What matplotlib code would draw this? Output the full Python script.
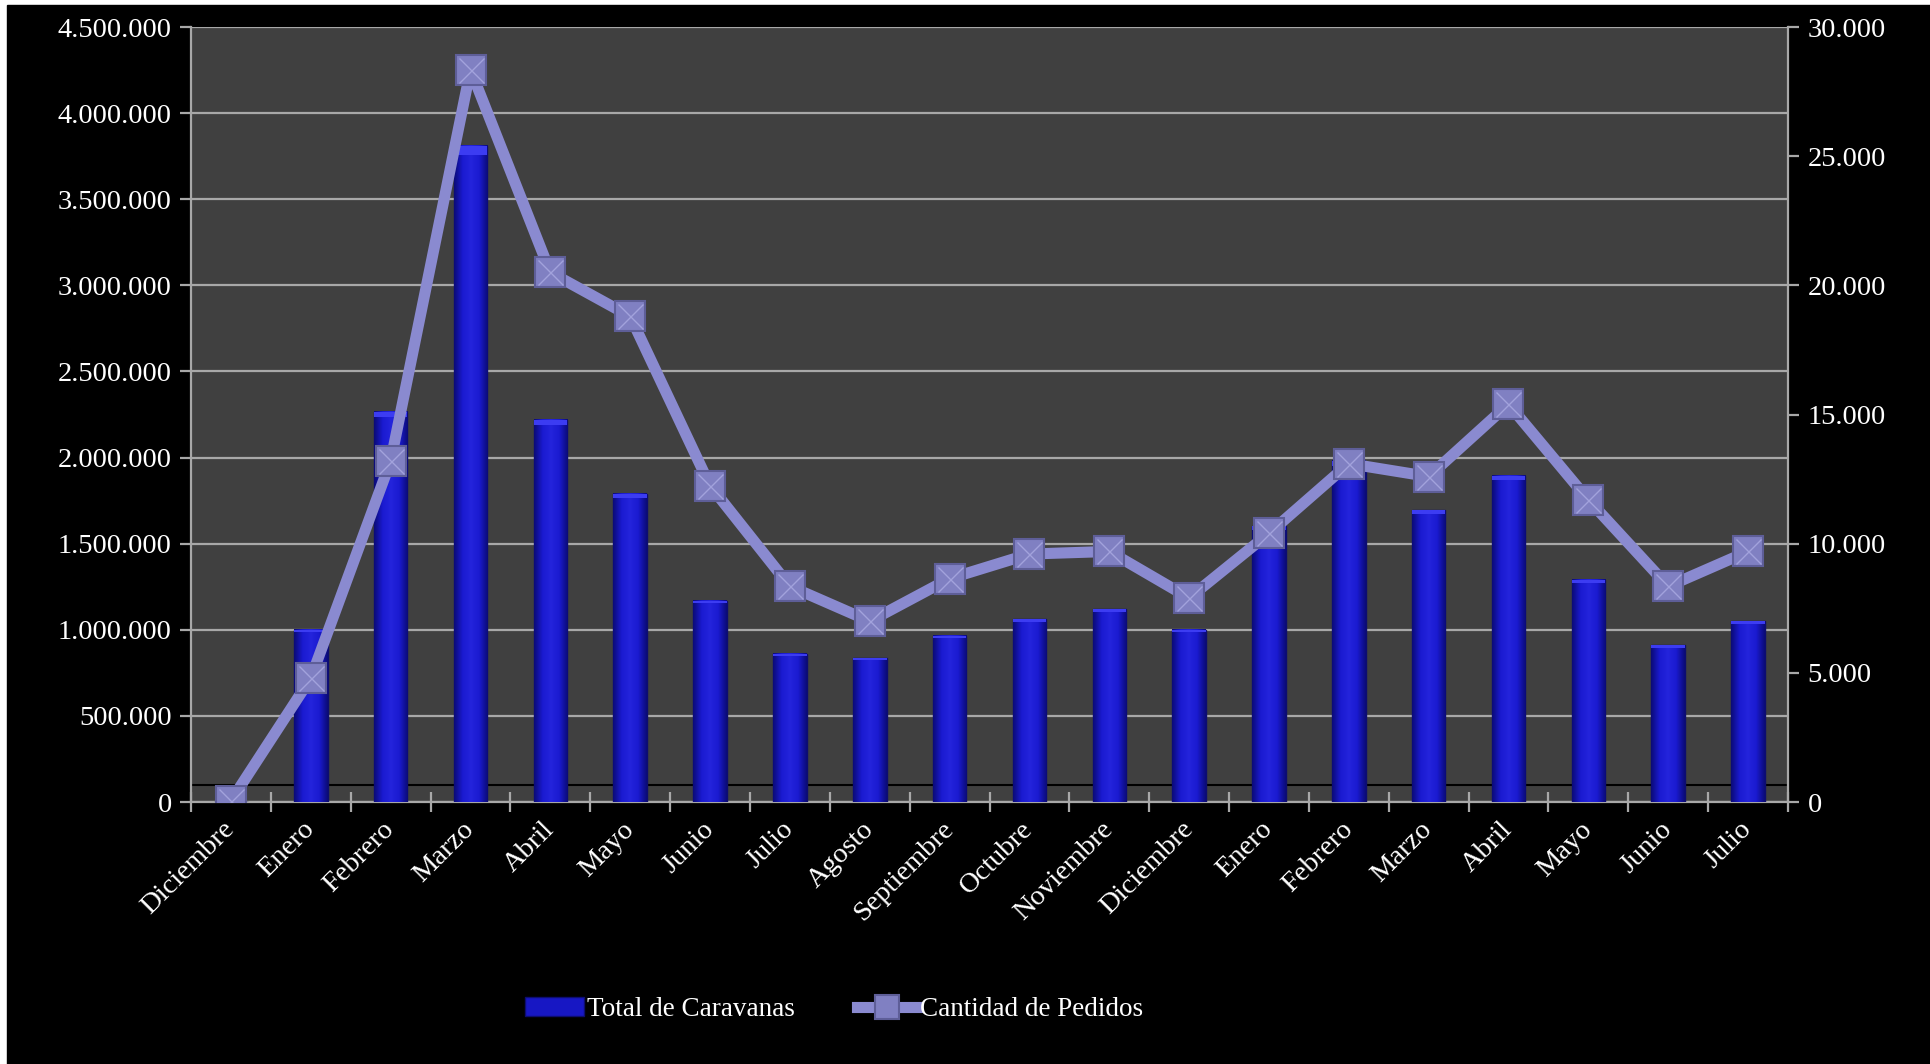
import matplotlib
matplotlib.use("Agg")
import matplotlib.pyplot as plt
import numpy as np
from matplotlib.ticker import FuncFormatter, FixedLocator
from matplotlib.patches import Rectangle
from matplotlib.colors import LinearSegmentedColormap

meses = ["Diciembre", "Enero", "Febrero", "Marzo", "Abril", "Mayo", "Junio",
         "Julio", "Agosto", "Septiembre", "Octubre", "Noviembre", "Diciembre",
         "Enero", "Febrero", "Marzo", "Abril", "Mayo", "Junio", "Julio"]

total_caravanas = [0, 1000000, 2265000, 3810000, 2220000, 1790000, 1170000,
                   860000, 835000, 965000, 1060000, 1120000, 1000000,
                   1600000, 1980000, 1695000, 1895000, 1290000, 910000, 1050000]

cantidad_pedidos = [50, 4800, 13200, 28350, 20500, 18800, 12250,
                    8350, 7000, 8650, 9600, 9700, 7900,
                    10400, 13100, 12600, 15400, 11700, 8350, 9700]

linea_base = 100000

def miles(v, pos):
    return f"{int(round(v)):,}".replace(",", ".")

plt.rcParams['font.family'] = ['Liberation Serif', 'DejaVu Serif']

fig = plt.figure(figsize=(19.3, 10.64), dpi=100, facecolor="white")
# fondo negro con el borde blanco de la captura
fig.patches.append(Rectangle((7 / 1930, 0), 1, 1 - 5 / 1064,
                             transform=fig.transFigure, color="black", zorder=-10))

ax = fig.add_axes([0.099, 0.2462, 0.8274, 0.7284])
ax.set_facecolor("#404040")
x = list(range(len(meses)))
ancho = 0.42

ax.axhline(linea_base, color="black", lw=1.5, zorder=1)
barras = ax.bar(x, total_caravanas, width=ancho, color="#1717c4",
                edgecolor="#0d0d70", linewidth=1.0, zorder=3, label="Total de Caravanas")

# sombreado cilindrico de las barras
azul = LinearSegmentedColormap.from_list("azul", ["#0b0b78", "#1a1ad0", "#2424dc", "#1a1ad0", "#0b0b78"])
grad = np.linspace(0, 1, 64).reshape(1, -1)
for xi, v in zip(x, total_caravanas):
    if v > 0:
        ax.imshow(grad, cmap=azul, aspect="auto", zorder=3.5,
                  extent=[xi - ancho / 2, xi + ancho / 2, 0, v])
        ax.bar(xi, v * 0.014, bottom=v * 0.986, width=ancho,
               color="#3c3cf2", linewidth=0, zorder=4)

ax.set_xlim(-0.5, len(meses) - 0.5)
ax.set_ylim(0, 4500000)
ax.yaxis.set_major_locator(FixedLocator([i * 500000 for i in range(10)]))
ax.yaxis.set_major_formatter(FuncFormatter(miles))
ax.grid(axis="y", color="#a8a8a8", lw=1.6, zorder=0)
ax.set_axisbelow(True)

ax.set_xticks(x)
ax.set_xticklabels(meses, rotation=45, ha="right", va="center", rotation_mode="anchor")
ax.tick_params(axis="x", which="major", length=0, pad=17, colors="white", labelsize=20.5)
ax.set_xticks([i - 0.5 for i in range(len(meses) + 1)], minor=True)
ax.tick_params(axis="x", which="minor", direction="inout", length=15, width=1.6, color="#a8a8a8")
ax.tick_params(axis="y", direction="out", length=8, width=1.6, color="#a8a8a8",
               labelcolor="white", labelsize=20.5, pad=6)

for lado in ["top", "right"]:
    ax.spines[lado].set_visible(False)
for lado in ["left", "bottom"]:
    ax.spines[lado].set_color("#a8a8a8")
    ax.spines[lado].set_linewidth(1.6)

ax2 = ax.twinx()
ax2.set_ylim(0, 30000)
ax2.yaxis.set_major_locator(FixedLocator([i * 5000 for i in range(7)]))
ax2.yaxis.set_major_formatter(FuncFormatter(miles))
ax2.plot(x, cantidad_pedidos, color="#8a8ad0", lw=8, zorder=5,
         marker="s", markersize=22, markerfacecolor="#8080c2",
         markeredgecolor="#5e5e98", markeredgewidth=1.5, label="Cantidad de Pedidos")
ax2.plot(x, cantidad_pedidos, ls="none", marker="x", markersize=18,
         markeredgecolor="#a2a2dc", markeredgewidth=1.0, zorder=6)
ax2.tick_params(axis="y", direction="out", length=8, width=1.6, color="#a8a8a8",
                labelcolor="white", labelsize=20.5, pad=6)
for lado in ["top", "left", "bottom"]:
    ax2.spines[lado].set_visible(False)
ax2.spines["right"].set_color("#a8a8a8")
ax2.spines["right"].set_linewidth(1.6)

lineas = ax2.get_lines()[:1]
fig.legend([barras] + lineas, ["Total de Caravanas", "Cantidad de Pedidos"],
           loc="center", bbox_to_anchor=(0.432, 0.051), ncol=2, frameon=False,
           fontsize=19.5, labelcolor="white", handlelength=2.2, handletextpad=0.1,
           columnspacing=2.3, markerscale=0.8)

fig.savefig("out.png", dpi=100, facecolor=fig.get_facecolor())
